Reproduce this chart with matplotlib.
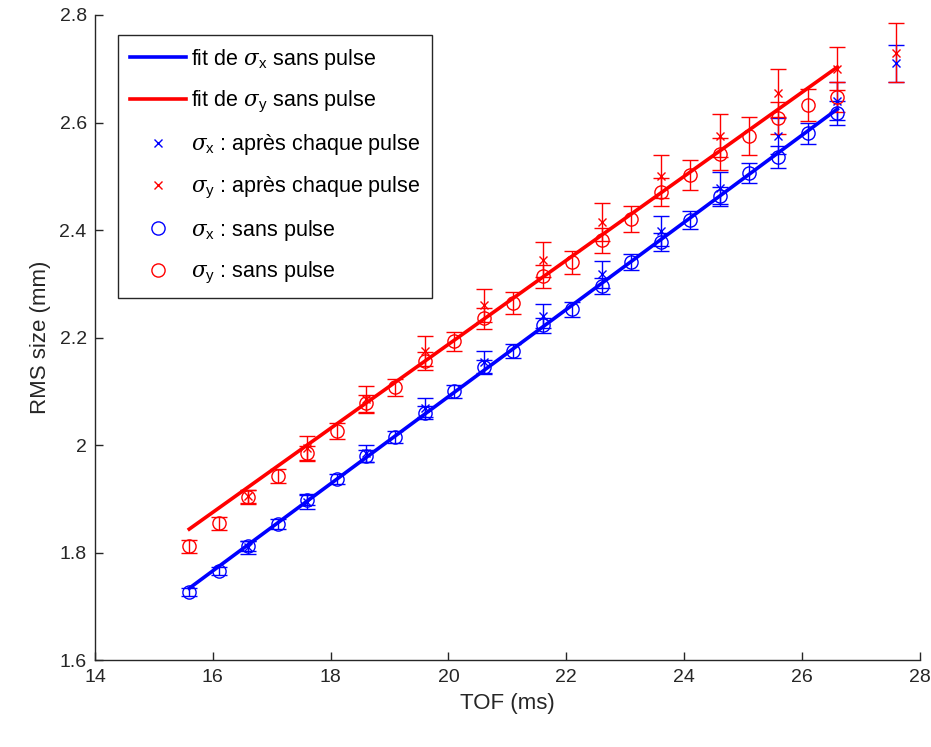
# RMS size vs TOF, with and without pulses
import matplotlib
matplotlib.use("Agg")
import matplotlib.pyplot as plt

plt.rcParams['font.family'] = ['Liberation Sans', 'DejaVu Sans']
plt.rcParams['mathtext.fontset'] = 'custom'
plt.rcParams['mathtext.it'] = 'DejaVu Serif:italic'
plt.rcParams['mathtext.rm'] = 'Liberation Sans'

# --- data ---
tof_sans = [15.6, 16.1, 16.6, 17.1, 17.6, 18.1, 18.6, 19.1, 19.6, 20.1, 20.6, 21.1,
            21.6, 22.1, 22.6, 23.1, 23.6, 24.1, 24.6, 25.1, 25.6, 26.1, 26.6]
sx_sans = [1.727, 1.766, 1.812, 1.853, 1.898, 1.937, 1.980, 2.015, 2.060, 2.100, 2.145, 2.175,
           2.223, 2.253, 2.296, 2.340, 2.378, 2.419, 2.463, 2.506, 2.536, 2.580, 2.618]
sy_sans = [1.812, 1.855, 1.903, 1.942, 1.985, 2.026, 2.078, 2.108, 2.156, 2.193, 2.236, 2.264,
           2.314, 2.340, 2.381, 2.420, 2.470, 2.502, 2.541, 2.575, 2.608, 2.633, 2.647]
ex_sans = [0.008, 0.008, 0.009, 0.009, 0.010, 0.010, 0.011, 0.011, 0.012, 0.012, 0.013, 0.013,
           0.014, 0.014, 0.015, 0.015, 0.016, 0.017, 0.018, 0.019, 0.020, 0.020, 0.022]
ey_sans = [0.012, 0.012, 0.013, 0.013, 0.014, 0.015, 0.016, 0.016, 0.017, 0.018, 0.019, 0.020,
           0.021, 0.022, 0.023, 0.024, 0.026, 0.028, 0.030, 0.035, 0.030, 0.030, 0.028]

tof_pulse = [16.6, 17.6, 18.6, 19.6, 20.6, 21.6, 22.6, 23.6, 24.6, 25.6, 26.6, 27.6]
sx_pulse = [1.810, 1.895, 1.985, 2.070, 2.155, 2.240, 2.318, 2.398, 2.478, 2.575, 2.640, 2.710]
sy_pulse = [1.905, 1.995, 2.085, 2.175, 2.260, 2.345, 2.415, 2.500, 2.575, 2.655, 2.700, 2.730]
ex_pulse = [0.012, 0.014, 0.016, 0.018, 0.020, 0.022, 0.025, 0.028, 0.030, 0.033, 0.035, 0.035]
ey_pulse = [0.012, 0.022, 0.026, 0.028, 0.030, 0.032, 0.035, 0.040, 0.040, 0.045, 0.040, 0.055]

fit_tof = [15.6, 26.6]
fit_x = [1.734, 2.625]
fit_y = [1.844, 2.703]

BLUE = (0, 0, 1)
RED = (1, 0, 0)

fig = plt.figure(figsize=(9.31, 7.47), dpi=100)
ax = fig.add_axes([0.102, 0.116, 0.886, 0.864])

# --- fit lines ---
ax.plot(fit_tof, fit_x, color=BLUE, lw=2.6, label=r'fit de $\sigma_{\rm x}$ sans pulse', zorder=3)
ax.plot(fit_tof, fit_y, color=RED, lw=2.6, label=r'fit de $\sigma_{\rm y}$ sans pulse', zorder=3)

# --- error bars (no legend entry) ---
eb = dict(fmt='none', elinewidth=1.0, capsize=6, capthick=1.0, zorder=2)
ax.errorbar(tof_pulse, sx_pulse, yerr=ex_pulse, ecolor=BLUE, **eb)
ax.errorbar(tof_pulse, sy_pulse, yerr=ey_pulse, ecolor=RED, **eb)
ax.errorbar(tof_sans, sx_sans, yerr=ex_sans, ecolor=BLUE, **eb)
ax.errorbar(tof_sans, sy_sans, yerr=ey_sans, ecolor=RED, **eb)

# --- markers ---
ax.plot(tof_pulse, sx_pulse, 'x', color=BLUE, ms=6, mew=1.0, ls='none',
        label=r'$\sigma_{\rm x}$ : après chaque pulse', zorder=4)
ax.plot(tof_pulse, sy_pulse, 'x', color=RED, ms=6, mew=1.0, ls='none',
        label=r'$\sigma_{\rm y}$ : après chaque pulse', zorder=4)
ax.plot(tof_sans, sx_sans, 'o', mfc='none', mec=BLUE, ms=9.5, mew=1.0, ls='none',
        label=r'$\sigma_{\rm x}$ : sans pulse', zorder=4)
ax.plot(tof_sans, sy_sans, 'o', mfc='none', mec=RED, ms=9.5, mew=1.0, ls='none',
        label=r'$\sigma_{\rm y}$ : sans pulse', zorder=4)

# --- axes style (MATLAB look) ---
ax.set_xlim(14, 28)
ax.set_ylim(1.6, 2.8)
ax.set_xticks([14, 16, 18, 20, 22, 24, 26, 28])
ax.set_yticks([1.6, 1.8, 2.0, 2.2, 2.4, 2.6, 2.8])
ax.set_yticklabels(['1.6', '1.8', '2', '2.2', '2.4', '2.6', '2.8'])
ax.spines['top'].set_visible(False)
ax.spines['right'].set_visible(False)
for s in ('left', 'bottom'):
    ax.spines[s].set_color('0.15')
    ax.spines[s].set_linewidth(1.0)
ax.tick_params(direction='in', length=6, width=1.0, colors='0.15', labelsize=14, pad=6)
ax.set_xlabel('TOF (ms)', fontsize=16, color='0.15', labelpad=5)
ax.set_ylabel('RMS size (mm)', fontsize=16, color='0.15', labelpad=6)

leg = ax.legend(loc='upper left', bbox_to_anchor=(0.028, 0.969), fontsize=15.5,
                frameon=True, fancybox=False, framealpha=1, edgecolor='0.15',
                handlelength=2.6, handletextpad=0.25, labelspacing=0.8, borderpad=0.55,
                borderaxespad=0)
leg.get_frame().set_linewidth(1.0)

fig.savefig('out.png', dpi=100)
